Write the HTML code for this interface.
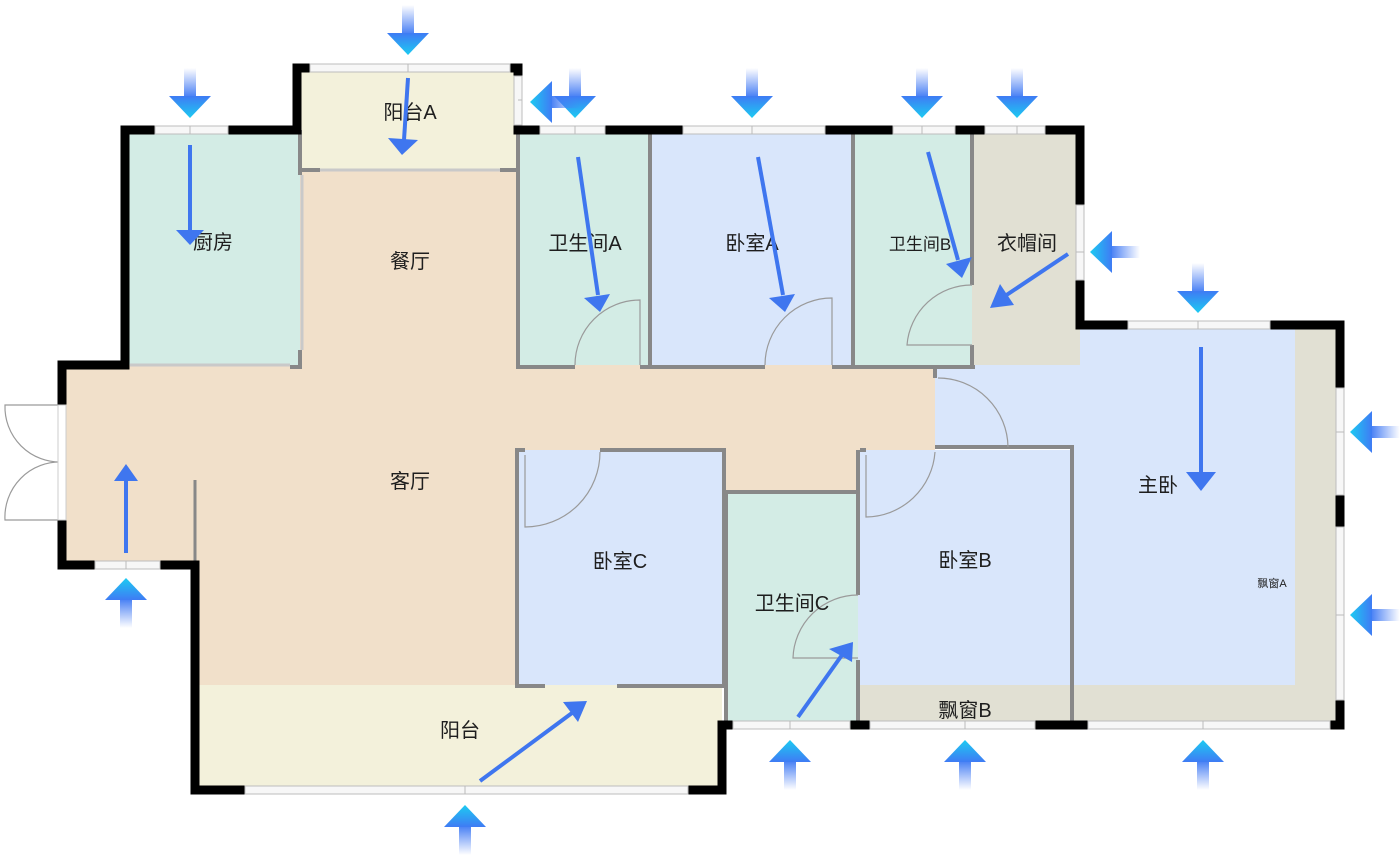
<!DOCTYPE html>
<html><head><meta charset="utf-8"><style>
html,body{margin:0;padding:0;background:#fff;}
svg{display:block}
text{font-family:"Liberation Sans","Noto Sans CJK SC",sans-serif;fill:#1e1e1e;}
</style></head><body>
<svg width="1400" height="858" viewBox="0 0 1400 858" xmlns="http://www.w3.org/2000/svg">
<defs>
<linearGradient id="gs" x1="0" y1="0" x2="0" y2="1"><stop offset="0" stop-color="#4a7cf4" stop-opacity="0"/><stop offset="1" stop-color="#3f7bf4"/></linearGradient>
<linearGradient id="gh" x1="0" y1="0" x2="0" y2="1"><stop offset="0" stop-color="#3f7bf4"/><stop offset="1" stop-color="#1ccbf2"/></linearGradient>
<g id="dn"><rect x="-6" y="0" width="12" height="30" fill="url(#gs)"/><polygon points="-21,28 21,28 0,50" fill="url(#gh)"/></g>
</defs>

<g>
<rect x="125" y="130" width="175" height="235" fill="#d3ece5"/>
<rect x="300" y="68" width="218" height="102" fill="#f3f1db"/>
<path d="M300 170 H518 V365 H935 V450 H515 V685 H195 V565 H62 V365 H300 Z" fill="#f1e0ca"/>
<rect x="720" y="445" width="140" height="47" fill="#f1e0ca"/>
<rect x="518" y="130" width="132" height="235" fill="#d3ece5"/>
<rect x="650" y="130" width="203" height="235" fill="#d9e6fb"/>
<rect x="853" y="130" width="119" height="235" fill="#d3ece5"/>
<rect x="972" y="130" width="108" height="235" fill="#e1e0d3"/>
<path d="M935 365 H1080 V325 H1340 V725 H1072 V447 H935 Z" fill="#d9e6fb"/>
<rect x="1295" y="325" width="45" height="400" fill="#e1e0d3"/>
<rect x="1072" y="685" width="268" height="40" fill="#e1e0d3"/>
<rect x="515" y="450" width="207" height="235" fill="#d9e6fb"/>
<rect x="725" y="490" width="133" height="232" fill="#d3ece5"/>
<rect x="858" y="450" width="214" height="235" fill="#d9e6fb"/>
<rect x="858" y="685" width="214" height="40" fill="#e1e0d3"/>
<rect x="195" y="685" width="527" height="105" fill="#f3f1db"/>
</g>

<g stroke="#888" stroke-width="4" fill="none">
<path d="M300 130 V175"/><path d="M300 350 V367 H290"/>
<path d="M518 130 V367 H575"/><path d="M640 367 H765"/><path d="M832 367 H975"/>
<path d="M650 130 V365"/><path d="M853 130 V365"/><path d="M972 130 V285"/><path d="M972 345 V367"/>
<path d="M935 365 V378"/>
<path d="M525 450 H517 V686 H545"/><path d="M600 450 H724 V686 H695"/><path d="M617 686 H695"/>
<path d="M724 492 H858"/><path d="M726 492 V722"/><path d="M858 450 V595"/><path d="M858 660 V722"/>
<path d="M935 447 H1072 V725"/><path d="M860 450 H866"/>
<path d="M195 480 V565" stroke-width="3"/>
<path d="M300 170 H320"/><path d="M500 170 H518"/>
</g>
<g stroke="#c9c9c9" stroke-width="3" fill="none">
<path d="M302 175 V350"/><path d="M130 365 H290"/><path d="M320 170 H500"/>
</g>

<g stroke="#9a9a9a" stroke-width="1.2" fill="none">
<path d="M575 365 A65 65 0 0 1 640 300 V365"/>
<path d="M765 365 A67 67 0 0 1 832 298 V365"/>
<path d="M972 285 A65 65 0 0 0 907 345 H972"/>
<path d="M938 378 A70 70 0 0 1 1008 447"/>
<path d="M525 455 V527 A75 75 0 0 0 600 452"/>
<path d="M866 455 V517 A70 70 0 0 0 935 452"/>
<path d="M858 595 A65 65 0 0 0 793 658 H858"/>
<path d="M62 405 H5 A55 55 0 0 0 62 462"/><path d="M62 520 H5 A55 55 0 0 1 62 462"/>
<path d="M62 405 V520"/>
</g>

<path d="M125 130 H297 V68 H518 V130 H1080 V325 H1340 V725 H722 V790 H195 V565 H62 V365 H125 Z" fill="none" stroke="#000" stroke-width="9" stroke-linejoin="miter"/>
<g fill="#f7f7f7" stroke="#bdbdbd" stroke-width="1">
<rect x="155" y="126" width="73" height="8"/>
<rect x="310" y="64" width="200" height="8"/>
<rect x="514" y="76" width="8" height="49"/>
<rect x="540" y="126" width="65" height="8"/>
<rect x="683" y="126" width="142" height="8"/>
<rect x="893" y="126" width="62" height="8"/>
<rect x="985" y="126" width="60" height="8"/>
<rect x="1076" y="205" width="8" height="75"/>
<rect x="1128" y="321" width="142" height="8"/>
<rect x="1336" y="388" width="8" height="107"/>
<rect x="1336" y="527" width="8" height="173"/>
<rect x="1088" y="721" width="242" height="8"/>
<rect x="870" y="721" width="165" height="8"/>
<rect x="733" y="721" width="117" height="8"/>
<rect x="245" y="786" width="443" height="8"/>
<rect x="95" y="561" width="65" height="8"/>
<rect x="58" y="405" width="8" height="115" fill="#fff" stroke="#ccc"/>
</g>
<g stroke="#bbb" stroke-width="1">
<path d="M190 126 V134 M408 64 V72 M575 126 V134 M752 126 V134 M922 126 V134 M1017 126 V134 M1076 252 H1084 M1198 321 V329 M1336 432 H1344 M1336 615 H1344 M1203 721 V729 M965 721 V729 M790 721 V729 M465 786 V794 M126 561 V569 M518 100 H522"/>
</g>

<g font-size="20" text-anchor="middle">
<text x="213" y="249">厨房</text>
<text x="410" y="119">阳台A</text>
<text x="410" y="268">餐厅</text>
<text x="585" y="250">卫生间A</text>
<text x="752" y="250">卧室A</text>
<text x="920" y="250" font-size="17">卫生间B</text>
<text x="1027" y="250">衣帽间</text>
<text x="410" y="488">客厅</text>
<text x="620" y="568">卧室C</text>
<text x="792" y="610">卫生间C</text>
<text x="965" y="567">卧室B</text>
<text x="1158" y="492">主卧</text>
<text x="1272" y="587" font-size="11">飘窗A</text>
<text x="965" y="717">飘窗B</text>
<text x="460" y="737">阳台</text>
</g>

<g stroke="#3f76ef" stroke-width="4" fill="#3f76ef">
<line x1="190" y1="145" x2="190" y2="232"/><polygon points="176,230 204,230 190,245" stroke="none"/>
<line x1="408" y1="78" x2="404" y2="140"/><polygon points="388,138 418,140 402,155" stroke="none"/>
<line x1="578" y1="157" x2="598" y2="295"/><polygon points="584,298 610,294 600,312" stroke="none"/>
<line x1="758" y1="157" x2="783" y2="295"/><polygon points="769,298 795,294 785,312" stroke="none"/>
<line x1="928" y1="152" x2="958" y2="260"/><polygon points="946,264 972,257 962,278" stroke="none"/>
<line x1="1068" y1="254" x2="1005" y2="296"/><polygon points="1000,284 1014,305 990,308" stroke="none"/>
<line x1="1201" y1="347" x2="1201" y2="475"/><polygon points="1186,472 1216,472 1201,491" stroke="none"/>
<line x1="126" y1="553" x2="126" y2="478"/><polygon points="114,481 138,481 126,464" stroke="none"/>
<line x1="798" y1="717" x2="842" y2="655"/><polygon points="829,649 852,662 853,642" stroke="none"/>
<line x1="480" y1="781" x2="572" y2="713"/><polygon points="563,702 578,722 587,701" stroke="none"/>
</g>

<use href="#dn" transform="translate(408,5)"/>
<use href="#dn" transform="translate(190,68)"/>
<use href="#dn" transform="translate(575,68)"/>
<use href="#dn" transform="translate(752,68)"/>
<use href="#dn" transform="translate(922,68)"/>
<use href="#dn" transform="translate(1017,68)"/>
<use href="#dn" transform="translate(1198,263)"/>
<use href="#dn" transform="translate(126,628) rotate(180)"/>
<use href="#dn" transform="translate(790,790) rotate(180)"/>
<use href="#dn" transform="translate(965,790) rotate(180)"/>
<use href="#dn" transform="translate(1203,790) rotate(180)"/>
<use href="#dn" transform="translate(465,855) rotate(180)"/>
<use href="#dn" transform="translate(580,102) rotate(90)"/>
<use href="#dn" transform="translate(1140,252) rotate(90)"/>
<use href="#dn" transform="translate(1400,432) rotate(90)"/>
<use href="#dn" transform="translate(1400,615) rotate(90)"/>
</svg>
</body></html>
